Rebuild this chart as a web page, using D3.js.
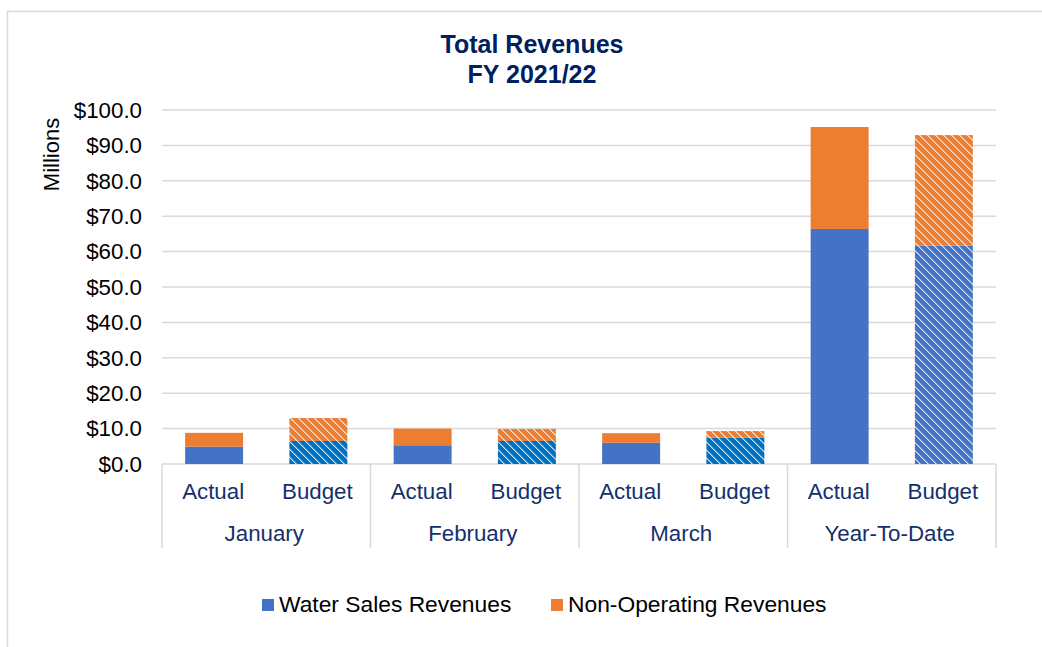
<!DOCTYPE html>
<html>
<head>
<meta charset="utf-8">
<script src="https://cdn.jsdelivr.net/npm/d3@7"></script>
<style>
  html, body { margin: 0; padding: 0; background: #fff; }
  svg { display: block; font-family: "Liberation Sans", Arial, sans-serif; }
</style>
</head>
<body>
<svg id="chart" width="1042" height="647"></svg>
<script>
// ---- data ----
const groups = ["January", "February", "March", "Year-To-Date"];
const scenarios = ["Actual", "Budget"];
const waterSales   = [4.9, 6.5, 5.3, 6.5, 6.0, 7.4, 66.4, 61.7];
const nonOperating = [3.9, 6.5, 4.7, 3.4, 2.7, 1.9, 28.8, 31.2];
const yTicks = [0, 10, 20, 30, 40, 50, 60, 70, 80, 90, 100];
const seriesNames = ["Water Sales Revenues", "Non-Operating Revenues"];
const titleLines = ["Total Revenues", "FY 2021/22"];

// ---- setup ----
const svg = d3.select("#chart");
const plot = { left: 162, right: 996, top: 110, bottom: 464 };
const navy = "#14306b";
const blue = "#4472C4", orange = "#ED7D31", budgetBlue = "#0070C0";

// chart border (only left/top visible in frame)
svg.append("rect").attr("x", 7.5).attr("y", 11.5).attr("width", 1050).attr("height", 650)
  .attr("fill", "#fff").attr("stroke", "#d9d9d9").attr("stroke-width", 1.5);

// patterns
const defs = svg.append("defs");
function makePattern(id, base) {
  const p = defs.append("pattern").attr("id", id).attr("patternUnits", "userSpaceOnUse")
    .attr("width", 8).attr("height", 8);
  p.append("rect").attr("width", 8).attr("height", 8).attr("fill", base);
  for (let y = 0; y < 8; y++) {
    for (let k = 0; k < 2; k++) {
      const x = (y + k) % 8;
      p.append("rect").attr("x", x).attr("y", y).attr("width", 1).attr("height", 1)
        .attr("fill", "#fff").attr("fill-opacity", k === 0 ? 0.75 : 0.45);
    }
  }
  return `url(#${id})`;
}
const patBudgetBlue = makePattern("pBudgetBlue", budgetBlue);
const patYtdBlue = makePattern("pYtdBlue", blue);
const patOrange = makePattern("pOrange", orange);

const idx = d3.range(waterSales.length);
const x = d3.scaleBand().domain(idx).range([plot.left, plot.right])
  .paddingInner(0.444).paddingOuter(0.222);
const y = d3.scaleLinear().domain([0, 100]).range([plot.bottom, plot.top]);

// gridlines
svg.append("g").selectAll("line").data(yTicks).join("line")
  .attr("x1", plot.left).attr("x2", plot.right)
  .attr("y1", d => y(d)).attr("y2", d => y(d))
  .attr("stroke", "#d9d9d9").attr("stroke-width", 1.5);

// y tick labels
svg.append("g").selectAll("text").data(yTicks).join("text")
  .attr("x", 142).attr("y", d => y(d)).attr("dy", "0.35em")
  .attr("text-anchor", "end").attr("font-size", 22.3).attr("fill", "#000")
  .text(d => "$" + d.toFixed(1));

// y axis title
svg.append("text").attr("transform", "translate(59,154.5) rotate(-90)")
  .attr("text-anchor", "middle").attr("font-size", 22).attr("fill", "#000").text("Millions");

// bars
function waterFill(i) {
  if (i % 2 === 0) return blue;
  return i === 7 ? patYtdBlue : patBudgetBlue;
}
function otherFill(i) { return i % 2 === 0 ? orange : patOrange; }

const bars = svg.append("g");
bars.selectAll("rect.w").data(idx).join("rect").attr("class", "w")
  .attr("x", i => x(i)).attr("width", x.bandwidth())
  .attr("y", i => y(waterSales[i])).attr("height", i => y(0) - y(waterSales[i]))
  .attr("fill", i => waterFill(i));
bars.selectAll("rect.n").data(idx).join("rect").attr("class", "n")
  .attr("x", i => x(i)).attr("width", x.bandwidth())
  .attr("y", i => y(waterSales[i] + nonOperating[i]))
  .attr("height", i => y(waterSales[i]) - y(waterSales[i] + nonOperating[i]))
  .attr("fill", i => otherFill(i));

// x axis: scenario labels
svg.append("g").selectAll("text").data(idx).join("text")
  .attr("x", i => x(i) + x.bandwidth() / 2 - 1).attr("y", 499)
  .attr("text-anchor", "middle").attr("font-size", 22.3).attr("fill", navy)
  .text(i => scenarios[i % 2]);

// group separators
const step = x.step();
const sepX = d3.range(groups.length + 1).map(g => plot.left + g * 2 * step);
svg.append("g").selectAll("line").data(sepX).join("line")
  .attr("x1", d => d).attr("x2", d => d).attr("y1", plot.bottom).attr("y2", 548)
  .attr("stroke", "#d9d9d9").attr("stroke-width", 1.5);

// group labels
svg.append("g").selectAll("text").data(groups).join("text")
  .attr("x", (d, g) => plot.left + (g * 2 + 1) * step - 2).attr("y", 541)
  .attr("text-anchor", "middle").attr("font-size", 22.3).attr("fill", navy)
  .text(d => d);

// title
svg.append("g").selectAll("text").data(titleLines).join("text")
  .attr("x", 532).attr("y", (d, i) => 53 + i * 30)
  .attr("text-anchor", "middle").attr("font-size", 25).attr("font-weight", "bold")
  .attr("fill", "#002060").text(d => d);

// legend
const legend = svg.append("g");
const legendItems = [
  { name: seriesNames[0], color: blue, x: 262 },
  { name: seriesNames[1], color: orange, x: 551 }
];
legendItems.forEach(it => {
  legend.append("rect").attr("x", it.x).attr("y", 599).attr("width", 12).attr("height", 12)
    .attr("fill", it.color);
  legend.append("text").attr("x", it.x + 17).attr("y", 612).attr("font-size", 22.8)
    .attr("fill", "#000").text(it.name);
});
</script>
</body>
</html>
